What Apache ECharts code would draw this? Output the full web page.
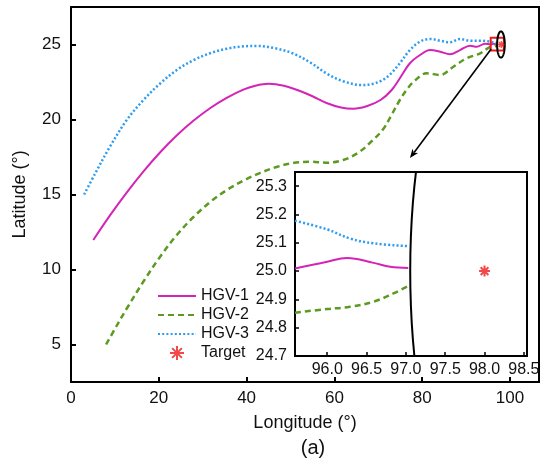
<!DOCTYPE html>
<html><head><meta charset="utf-8">
<script src="https://cdn.jsdelivr.net/npm/echarts@6/dist/echarts.min.js"></script>
<style>html,body{margin:0;padding:0;background:#fff}#c{width:544px;height:462px}</style>
</head><body><div id="c"></div>
<script>
const FONT = 'Liberation Sans, Arial, sans-serif';
const xTicks = [0, 20, 40, 60, 80, 100];
const yTicks = [5, 10, 15, 20, 25];
const insetXTicks = [96.0, 96.5, 97.0, 97.5, 98.0, 98.5];
const insetYTicks = [24.7, 24.8, 24.9, 25.0, 25.1, 25.2, 25.3];
const seriesNames = ['HGV-1', 'HGV-2', 'HGV-3', 'Target'];

const hgv1 = [[5.08,11.97],[8.88,13.61],[12.68,15.13],[16.47,16.53],[20.27,17.8],[24.07,18.93],[27.87,19.91],[31.66,20.75],[35.46,21.44],[39.25,21.99],[42,22.25],[45,22.38],[48.5,22.25],[52,21.92],[55,21.55],[58.2,21.1],[61.5,20.8],[64.3,20.72],[67.5,20.9],[70.5,21.3],[73,21.95],[74.9,22.75],[77.2,23.75],[79.5,24.3],[81.8,24.63],[84.1,24.52],[86.3,24.35],[88.6,24.63],[90.9,24.92],[92.4,24.85],[94.3,25.05],[95.6,25.01],[96.25,25.045],[97.05,25.01]];
const hgv2 = [[8,5.0],[10.3,6.2],[12.7,7.4],[16.5,9.2],[20.3,10.85],[24.1,12.3],[27.9,13.5],[31.7,14.5],[35.5,15.3],[39.3,15.93],[43,16.43],[46.8,16.83],[50.6,17.1],[54.5,17.18],[58.2,17.12],[62,17.3],[65.5,17.8],[68.3,18.5],[71.1,19.35],[73,20.3],[74.9,21.3],[76.5,22.0],[78,22.5],[81,23.08],[84.1,22.97],[87.1,23.52],[90.1,24.08],[93.2,24.41],[95.6,24.85],[96.5,24.875],[97.05,24.945]];
const hgv3 = [[3,15.0],[5.5,16.4],[8.9,18.2],[12.7,19.97],[16.5,21.3],[20.3,22.4],[24.1,23.3],[27.9,23.96],[31.7,24.42],[35.5,24.72],[39,24.87],[42.3,24.9],[46.5,24.75],[50.6,24.4],[54.5,23.8],[58.2,23.07],[62,22.55],[66.2,22.3],[68.8,22.38],[71.1,22.65],[73,23.1],[74.9,23.75],[77.2,24.63],[79.5,25.19],[81.8,25.37],[84.1,25.25],[86.3,25.15],[88.6,25.37],[90.9,25.25],[93.2,25.25],[95.6,25.18],[96.5,25.1],[97.05,25.085]];

const hgv1Inset = [[95.59,25.009],[96.0,25.033],[96.25,25.046],[96.59,25.029],[96.8,25.015],[97.03,25.011]];
const hgv2Inset = [[95.59,24.853],[96.0,24.866],[96.29,24.874],[96.59,24.892],[96.84,24.921],[97.03,24.947]];
const hgv3Inset = [[95.59,25.178],[96.0,25.147],[96.29,25.115],[96.59,25.098],[97.03,25.088]];

const target = [[98.0, 25.0]];
const zoomBox = [[95.6, 24.6, 98.6, 25.45]];
const circleMark = [[97.93, 25.0, 0.875]];
const arrowMark = [[95.7, 24.7, 77.2, 17.43]];

const C1 = '#d424b6', C2 = '#5c9a22', C3 = '#2b9cf2', CT = '#ee1c1c';
const STAR = 'path://M0,5L10,5M5,0L5,10M1.5,1.5L8.5,8.5M8.5,1.5L1.5,8.5';

function renderEllipse(params, api) {
  const c = api.coord([api.value(0), api.value(1)]);
  const r = api.value(2);
  const rx = api.size([r, 0])[0], ry = api.size([0, r])[1];
  const pts = [];
  for (let i = 0; i <= 90; i++) { const a = i / 90 * 2 * Math.PI; pts.push([c[0] + rx * Math.cos(a), c[1] + ry * Math.sin(a)]); }
  const cs = params.coordSys;
  return { type: 'polyline', shape: { points: pts }, style: { stroke: '#000', lineWidth: 2, fill: null },
    clipPath: { type: 'rect', shape: { x: cs.x, y: cs.y, width: cs.width, height: cs.height } } };
}
function renderBox(params, api) {
  const a = api.coord([api.value(0), api.value(3)]);
  const b = api.coord([api.value(2), api.value(1)]);
  return { type: 'rect', shape: { x: a[0], y: a[1], width: b[0] - a[0], height: b[1] - a[1] }, style: { stroke: CT, lineWidth: 2, fill: 'none' } };
}
function renderArrow(params, api) {
  const p0 = api.coord([api.value(0), api.value(1)]);
  const p1 = api.coord([api.value(2), api.value(3)]);
  const dx = p1[0] - p0[0], dy = p1[1] - p0[1], L = Math.hypot(dx, dy), ux = dx / L, uy = dy / L;
  const hl = 9, hw = 3.5, bx = p1[0] - ux * hl, by = p1[1] - uy * hl;
  return { type: 'group', children: [
    { type: 'line', shape: { x1: p0[0], y1: p0[1], x2: bx + ux * 2, y2: by + uy * 2 }, style: { stroke: '#000', lineWidth: 1.6 } },
    { type: 'polygon', shape: { points: [[p1[0], p1[1]], [bx - uy * hw, by + ux * hw], [bx + ux * 2.5, by + uy * 2.5], [bx + uy * hw, by - ux * hw]] }, style: { fill: '#000' } }
  ] };
}

const axisCommon = {
  axisLine: { show: true, onZero: false, lineStyle: { color: '#000', width: 2 } },
  splitLine: { show: false },
};
const hideSym = { color: 'rgba(0,0,0,0)', borderWidth: 0, borderColor: 'rgba(0,0,0,0)' };

const chart = echarts.init(document.getElementById('c'), null, { renderer: 'canvas' });
chart.setOption({
  animation: false,
  backgroundColor: '#fff',
  textStyle: { fontFamily: FONT },
  title: { text: '(a)', left: 308, top: 433, textAlign: 'center', textStyle: { fontFamily: FONT, fontSize: 20, fontWeight: 'normal', color: '#111' } },
  legend: {
    data: seriesNames.map((n, i) => i < 3 ? { name: n, itemStyle: hideSym } : { name: n }),
    orient: 'vertical', left: 152, top: 283, itemWidth: 38, itemHeight: 14, itemGap: 3,
    textStyle: { fontFamily: FONT, fontSize: 16, color: '#111' }
  },
  grid: [
    { left: 71, top: 7, right: 5, bottom: 80, show: true, borderColor: '#000', borderWidth: 2, backgroundColor: 'transparent' },
    { left: 295, top: 172, right: 17, bottom: 106, show: true, borderColor: '#000', borderWidth: 2, backgroundColor: '#fff', z: 5 }
  ],
  xAxis: [
    Object.assign({}, axisCommon, { gridIndex: 0, type: 'value', min: 0, max: 106.6,
      name: 'Longitude (°)', nameLocation: 'middle', nameGap: 32,
      nameTextStyle: { fontFamily: FONT, fontSize: 18, color: '#111' },
      axisTick: { inside: true, length: 5, lineStyle: { color: '#000', width: 2 }, customValues: xTicks },
      axisLabel: { customValues: xTicks, fontFamily: FONT, fontSize: 17, color: '#111', margin: 8 } }),
    Object.assign({}, axisCommon, { gridIndex: 1, type: 'value', min: 95.59, max: 98.54, z: 6,
      axisTick: { inside: true, length: 4, lineStyle: { color: '#000', width: 1.5 }, customValues: insetXTicks },
      axisLabel: { customValues: insetXTicks, formatter: v => v.toFixed(1), fontFamily: FONT, fontSize: 16, color: '#111', margin: 6 } })
  ],
  yAxis: [
    Object.assign({}, axisCommon, { gridIndex: 0, type: 'value', min: 2.5, max: 27.5,
      name: 'Latitude (°)', nameLocation: 'middle', nameGap: 42,
      nameTextStyle: { fontFamily: FONT, fontSize: 18, color: '#111' },
      axisTick: { inside: true, length: 5, lineStyle: { color: '#000', width: 2 }, customValues: yTicks },
      axisLabel: { customValues: yTicks, fontFamily: FONT, fontSize: 17, color: '#111', margin: 10 } }),
    Object.assign({}, axisCommon, { gridIndex: 1, type: 'value', min: 24.7, max: 25.35, z: 6,
      axisTick: { inside: true, length: 4, lineStyle: { color: '#000', width: 1.5 }, customValues: insetYTicks },
      axisLabel: { customValues: insetYTicks, formatter: v => v.toFixed(1), fontFamily: FONT, fontSize: 16, color: '#111', margin: 8 } })
  ],
  series: [
    { name: 'HGV-1', type: 'line', xAxisIndex: 0, yAxisIndex: 0, data: hgv1, symbol: 'none', smooth: 0.35, lineStyle: { color: C1, width: 2 }, itemStyle: { color: C1 } },
    { name: 'HGV-2', type: 'line', xAxisIndex: 0, yAxisIndex: 0, data: hgv2, symbol: 'none', smooth: 0.35, lineStyle: { color: C2, width: 2.5, type: [6, 4] }, itemStyle: { color: C2 } },
    { name: 'HGV-3', type: 'line', xAxisIndex: 0, yAxisIndex: 0, data: hgv3, symbol: 'none', smooth: 0.35, lineStyle: { color: C3, width: 2.5, type: [2, 2.2] }, itemStyle: { color: C3 } },
    { name: 'Target', type: 'scatter', xAxisIndex: 0, yAxisIndex: 0, data: target, symbol: STAR, symbolSize: 7, itemStyle: { color: CT, borderColor: CT, borderWidth: 1.3 }, z: 4 },
    { type: 'custom', xAxisIndex: 0, yAxisIndex: 0, data: zoomBox, renderItem: renderBox, z: 4, silent: true },
    { type: 'custom', xAxisIndex: 0, yAxisIndex: 0, data: circleMark, renderItem: renderEllipse, z: 4, silent: true },
    { type: 'custom', xAxisIndex: 0, yAxisIndex: 0, data: arrowMark, renderItem: renderArrow, z: 4, silent: true },

    { name: 'HGV-1', type: 'line', xAxisIndex: 1, yAxisIndex: 1, data: hgv1Inset, symbol: 'none', smooth: 0.4, lineStyle: { color: C1, width: 2 }, itemStyle: { color: C1 }, z: 7 },
    { name: 'HGV-2', type: 'line', xAxisIndex: 1, yAxisIndex: 1, data: hgv2Inset, symbol: 'none', smooth: 0.4, lineStyle: { color: C2, width: 2.5, type: [6, 4] }, itemStyle: { color: C2 }, z: 7 },
    { name: 'HGV-3', type: 'line', xAxisIndex: 1, yAxisIndex: 1, data: hgv3Inset, symbol: 'none', smooth: 0.4, lineStyle: { color: C3, width: 2.5, type: [2, 2.2] }, itemStyle: { color: C3 }, z: 7 },
    { name: 'Target', type: 'scatter', xAxisIndex: 1, yAxisIndex: 1, data: target, symbol: STAR, symbolSize: 11, itemStyle: { color: CT, borderColor: CT, borderWidth: 2 }, z: 7 },
    { type: 'custom', xAxisIndex: 1, yAxisIndex: 1, data: circleMark, renderItem: renderEllipse, z: 7, silent: true, clip: true }
  ]
});
</script></body></html>
